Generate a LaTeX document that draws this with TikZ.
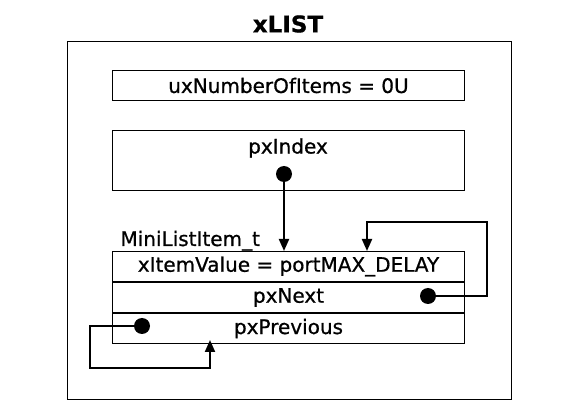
\documentclass[tikz,border=0pt]{standalone}
\usepackage{fontspec}
\setmainfont{DejaVu Sans}[FakeBold=0.8]
\usetikzlibrary{positioning, arrows.meta}

\begin{document}
\begin{tikzpicture}[x=1pt, y=-1pt,
    font=\fontsize{20}{23}\selectfont,
    fieldbox/.style={rectangle, draw, line width=1pt, minimum width=352pt, minimum height=30pt,
        inner sep=0pt, anchor=north west},
    dot/.style={circle, fill=black, minimum size=16pt, inner sep=0pt},
    arr/.style={-{Triangle[length=12pt, width=10pt]}, line width=2pt}
]
\useasboundingbox (0,0) rectangle (566,417);
\node[draw, line width=1pt, minimum width=444pt, minimum height=358pt, anchor=north west] (list) at (67,41) {};
\node[font=\fontsize{23}{27}\selectfont\bfseries] (title) at (288,24) {xLIST};

\node[fieldbox] (count) at (112,70) {uxNumberOfItems = 0U};
\node[fieldbox, minimum height=60pt] (index) at (112,130) {};
\node (indexlbl) at (288,148) {pxIndex};
\node[dot] (idxdot) at (284,174) {};

\node[anchor=base west] (itemlbl) at (117,246) {MiniListItem\_t};
\node[fieldbox] (value) at (112,251) {xItemValue = portMAX\_DELAY};
\node[fieldbox, below=0pt of value] (next) {pxNext};
\node[fieldbox, below=0pt of next] (prev) {pxPrevious};
\node[dot] (nextdot) at (428,296) {};
\node[dot] (prevdot) at (142,326) {};

\coordinate (rtop) at (487,222);
\coordinate (nextin) at (367,251);
\coordinate (lbot) at (90,368);
\coordinate (previn) at (210,340);

\draw[arr] (idxdot.center) -- (idxdot |- value.north);
\draw[arr] (nextdot.center) -| (rtop) -| (nextin);
\draw[arr] (prevdot.center) -| (lbot) -| (previn);
\end{tikzpicture}
\end{document}
